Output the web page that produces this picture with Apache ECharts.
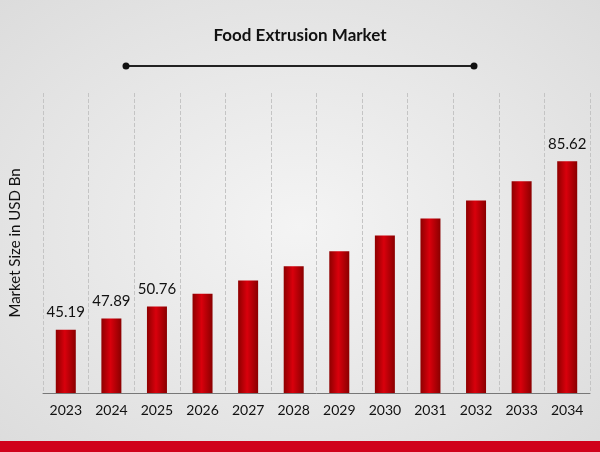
<!DOCTYPE html>
<html lang="en">
<head>
    <meta charset="UTF-8">
    <title>Food Extrusion Market</title>
    <script src="https://cdn.jsdelivr.net/npm/echarts@6.0.0/dist/echarts.min.js"></script>
    <style>
        body { margin: 0; }
        #main { width: 600px; height: 452px; background: radial-gradient(ellipse at center, #f4f4f4 0%, #dcdcdc 100%); }
    </style>
</head>
<body>
    <div id="main"></div>
    <script type="text/javascript">
        const years = ['2023', '2024', '2025', '2026', '2027', '2028', '2029', '2030', '2031', '2032', '2033', '2034'];
        const marketSize = [45.19, 47.89, 50.76, 53.8, 57.0, 60.4, 64.0, 67.8, 71.9, 76.2, 80.8, 85.62];
        const labelledYears = ['2023', '2024', '2025', '2034'];

        let myChart = echarts.init(document.getElementById('main'));

        let options = {
            title: {
                text: 'Food Extrusion Market', left: 'center', top: 22,
                textStyle: { fontFamily: 'Lato', fontSize: 17, fontWeight: 'bold', color: '#111' }
            },
            graphic: [
                { type: 'line', shape: { x1: 126, y1: 66, x2: 474, y2: 66 }, style: { stroke: '#222', lineWidth: 2 } },
                { type: 'circle', shape: { cx: 126, cy: 66, r: 3.5 }, style: { fill: '#111' } },
                { type: 'circle', shape: { cx: 474, cy: 66, r: 3.5 }, style: { fill: '#111' } },
                { type: 'rect', shape: { x: 0, y: 441, width: 600, height: 11 }, style: { fill: '#d0021b' } }
            ],
            grid: { left: 38, right: 10, top: 93, bottom: 59 },
            xAxis: {
                type: 'category', data: years,
                axisLine: { lineStyle: { color: '#777' } },
                axisTick: { show: false },
                axisLabel: { fontFamily: 'Lato', fontSize: 14, color: '#111', margin: 10 },
                splitLine: { show: true, lineStyle: { type: 'dashed', color: '#c4c4c4' } }
            },
            yAxis: {
                type: 'value', min: 30, max: 102,
                name: 'Market Size in USD Bn', nameLocation: 'middle', nameGap: 20,
                nameTextStyle: { fontFamily: 'Lato', fontSize: 15, color: '#111' },
                axisLabel: { show: false }, axisLine: { show: false }, axisTick: { show: false },
                splitLine: { show: false }
            },
            series: [{
                name: 'Market Size', type: 'bar', data: marketSize, barWidth: 20,
                itemStyle: {
                    color: new echarts.graphic.LinearGradient(0, 0, 1, 0, [
                        { offset: 0, color: '#8e0000' },
                        { offset: 0.45, color: '#d9000c' },
                        { offset: 1, color: '#8a0000' }
                    ])
                },
                label: {
                    show: true, position: 'top', distance: 10,
                    fontFamily: 'Lato', fontSize: 15, color: '#111',
                    formatter: (p) => labelledYears.includes(p.name) ? p.value.toFixed(2) : ''
                }
            }]
        };

        myChart.setOption(options);
    </script>
</body>
</html>
